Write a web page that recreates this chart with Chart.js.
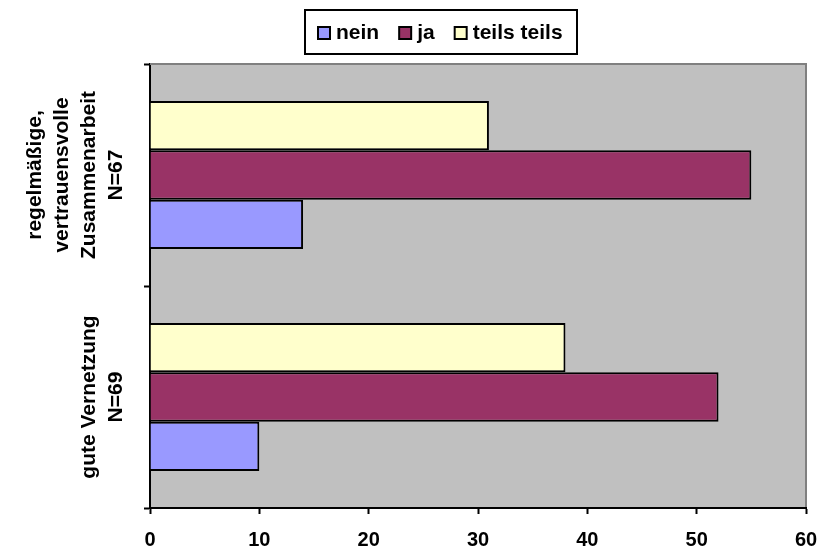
<!DOCTYPE html>
<html>
<head>
<meta charset="utf-8">
<script src="https://cdn.jsdelivr.net/npm/chart.js@4.4.0/dist/chart.umd.min.js"></script>
<style>
  html, body { margin: 0; padding: 0; background: #ffffff; }
  #wrap { width: 834px; height: 551px; }
</style>
</head>
<body>
<div id="wrap"><canvas id="c" width="834" height="551"></canvas></div>
<script>
// Categories (multi-line, drawn rotated beside the vertical axis)
const categories = [
  ['regelmäßige,', 'vertrauensvolle', 'Zusammenarbeit', 'N=67'],
  ['gute Vernetzung', 'N=69']
];

// Series values, one entry per category
const neinValues  = [14, 10];
const jaValues    = [55, 52];
const teilsValues = [31, 38];

const seriesNames  = ['nein', 'ja', 'teils teils'];
const seriesColors = ['#9999FF', '#993366', '#FFFFCC'];

// Value axis
const xMin = 0;
const xMax = 60;
const xStep = 10;

const FONT = '"Liberation Sans", Arial, Helvetica, sans-serif';

// Grey plot background with a darker frame on top and right
const plotFrame = {
  id: 'plotFrame',
  beforeDraw(chart) {
    const { ctx, chartArea: a } = chart;
    ctx.save();
    ctx.fillStyle = '#C0C0C0';
    ctx.fillRect(a.left, a.top, a.right - a.left, a.bottom - a.top);
    ctx.restore();
  },
  afterDraw(chart) {
    const { ctx, chartArea: a } = chart;
    ctx.save();
    ctx.strokeStyle = '#808080';
    ctx.lineWidth = 2;
    ctx.beginPath();
    ctx.moveTo(a.left, a.top);
    ctx.lineTo(a.right, a.top);
    ctx.lineTo(a.right, a.bottom - 1);
    ctx.stroke();
    ctx.restore();
  }
};

// Rotated category labels, stacked in columns towards the axis
const categoryLabels = {
  id: 'categoryLabels',
  afterDraw(chart) {
    const { ctx } = chart;
    const yScale = chart.scales.y;
    const lastX = 116;
    const lineGap = 27;
    ctx.save();
    ctx.fillStyle = '#000';
    ctx.font = 'bold 21px ' + FONT;
    ctx.textAlign = 'center';
    ctx.textBaseline = 'middle';
    categories.forEach((lines, i) => {
      const yc = yScale.getPixelForValue(i);
      const n = lines.length;
      lines.forEach((txt, k) => {
        const x = lastX - (n - 1 - k) * lineGap;
        ctx.save();
        ctx.translate(x, yc);
        ctx.rotate(-Math.PI / 2);
        ctx.fillText(txt, 0, 0);
        ctx.restore();
      });
    });
    ctx.restore();
  }
};

// Boxed legend above the plot
const boxedLegend = {
  id: 'boxedLegend',
  afterDraw(chart) {
    const { ctx } = chart;
    const box = { x: 305, y: 10, w: 272, h: 44 };
    ctx.save();
    ctx.fillStyle = '#ffffff';
    ctx.fillRect(box.x, box.y, box.w, box.h);
    ctx.strokeStyle = '#000';
    ctx.lineWidth = 2;
    ctx.strokeRect(box.x, box.y, box.w, box.h);

    ctx.font = 'bold 21px ' + FONT;
    ctx.textBaseline = 'middle';
    ctx.textAlign = 'left';
    const cy = box.y + box.h / 2 + 1;
    let x = 318;
    const sq = 12;
    seriesNames.forEach((name) => {
      const ds = chart.data.datasets.find(d => d.label === name);
      ctx.fillStyle = ds.backgroundColor;
      ctx.fillRect(x, cy - sq / 2, sq, sq);
      ctx.strokeStyle = '#000';
      ctx.lineWidth = 2;
      ctx.strokeRect(x, cy - sq / 2, sq, sq);
      ctx.fillStyle = '#000';
      const tx = x + sq + 6;
      ctx.fillText(name, tx, cy);
      x = tx + ctx.measureText(name).width + 20;
    });
    ctx.restore();
  }
};

// Datasets listed top-to-bottom within each category
const datasets = [
  { label: seriesNames[2], data: teilsValues, backgroundColor: seriesColors[2] },
  { label: seriesNames[1], data: jaValues,    backgroundColor: seriesColors[1] },
  { label: seriesNames[0], data: neinValues,  backgroundColor: seriesColors[0] }
].map(d => Object.assign(d, {
  borderColor: '#000000',
  borderWidth: 2,
  barPercentage: 1.0,
  categoryPercentage: 0.667
}));

new Chart(document.getElementById('c'), {
  type: 'bar',
  data: { labels: categories, datasets },
  options: {
    indexAxis: 'y',
    responsive: false,
    animation: false,
    devicePixelRatio: 1,
    layout: { padding: { top: 64, right: 28, bottom: 0, left: 0 } },
    plugins: {
      legend: { display: false },
      tooltip: { enabled: false }
    },
    scales: {
      x: {
        min: xMin,
        max: xMax,
        ticks: {
          stepSize: xStep,
          color: '#000',
          font: { family: FONT, size: 20, weight: 'bold' },
          padding: 14,
          maxRotation: 0
        },
        grid: {
          drawOnChartArea: false,
          drawTicks: true,
          tickLength: 6,
          tickWidth: 2,
          tickColor: '#000'
        },
        border: { color: '#000', width: 2 },
        afterFit(scale) { scale.height = 43; }
      },
      y: {
        ticks: { callback: () => '' },
        grid: {
          offset: true,
          drawOnChartArea: false,
          drawTicks: true,
          tickLength: 6,
          tickWidth: 2,
          tickColor: '#000'
        },
        border: { color: '#000', width: 2 },
        afterFit(scale) { scale.width = 150; }
      }
    }
  },
  plugins: [plotFrame, categoryLabels, boxedLegend]
});
</script>
</body>
</html>
